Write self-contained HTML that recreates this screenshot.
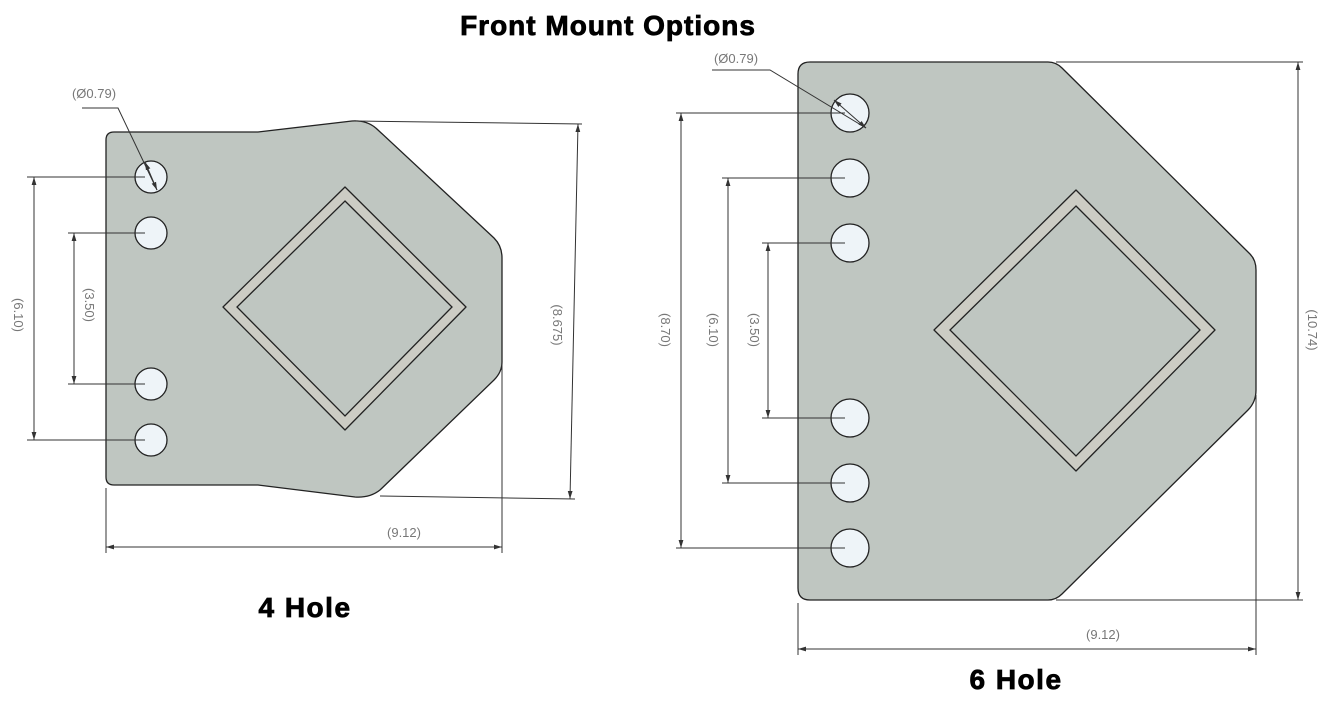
<!DOCTYPE html>
<html><head><meta charset="utf-8"><style>
html,body{margin:0;padding:0;background:#fff;width:1337px;height:703px;overflow:hidden}
svg{display:block}
.d{font-family:"Liberation Sans",sans-serif;font-size:13px;fill:#777}
.t{font-family:"Liberation Sans",sans-serif;font-weight:bold;fill:#000;stroke:#000;stroke-width:0.8}
</style></head><body>
<svg width="1337" height="703" viewBox="0 0 1337 703" xmlns="http://www.w3.org/2000/svg">
<defs><marker id="a" viewBox="0 0 10 10" refX="10" refY="5" markerWidth="8" markerHeight="8" orient="auto-start-reverse"><path d="M0,2 L10,5 L0,8z" fill="#333"/></marker></defs>
<text class="t" x="608" y="35" font-size="28" letter-spacing="1" text-anchor="middle">Front Mount Options</text>
<text class="t" x="305" y="617" font-size="28" letter-spacing="1.5" text-anchor="middle">4 Hole</text>
<text class="t" x="1016" y="689" font-size="28" letter-spacing="1.5" text-anchor="middle">6 Hole</text>

<!-- LEFT -->
<path d="M114,132 L258,132 L352,121 Q368,120 378,130 L494,238 Q502,246 502,258 L502,362 Q502,372 494,380 L380,490 Q370,498 355,497 L258,485 L114,485 Q106,485 106,477 L106,140 Q106,132 114,132Z" fill="#bfc6c1" stroke="#222" stroke-width="1.3"/>
<path d="M345,187 L466,307 L345,430 L223,307Z" fill="#ccccc4" stroke="#222" stroke-width="1.3" stroke-linejoin="round"/>
<path d="M345,201 L452,307 L345,416 L237,307Z" fill="#bfc6c1" stroke="#222" stroke-width="1.3"/>
<g fill="#eef4f8" stroke="#222" stroke-width="1.3">
<circle cx="151" cy="177" r="16"/><circle cx="151" cy="233" r="16"/><circle cx="151" cy="384" r="16"/><circle cx="151" cy="440" r="16"/>
</g>
<g stroke="#333" stroke-width="1" fill="none">
<line x1="27" y1="177" x2="145" y2="177"/><line x1="27" y1="440" x2="145" y2="440"/>
<line x1="34" y1="177" x2="34" y2="440" marker-start="url(#a)" marker-end="url(#a)"/>
<line x1="68" y1="233" x2="145" y2="233"/><line x1="68" y1="384" x2="145" y2="384"/>
<line x1="74" y1="233" x2="74" y2="384" marker-start="url(#a)" marker-end="url(#a)"/>
<line x1="356" y1="121" x2="582" y2="124"/><line x1="380" y1="496" x2="575" y2="499"/>
<line x1="578" y1="124" x2="570" y2="499" marker-start="url(#a)" marker-end="url(#a)"/>
<line x1="106" y1="488" x2="106" y2="553"/><line x1="502" y1="365" x2="502" y2="553"/>
<line x1="106" y1="547" x2="502" y2="547" marker-start="url(#a)" marker-end="url(#a)"/>
<polyline points="82,108 118,108 157,190"/>
<line x1="145" y1="162" x2="157" y2="190" marker-start="url(#a)" marker-end="url(#a)"/>
</g>
<text class="d" x="94" y="98" text-anchor="middle">(Ø0.79)</text>
<text class="d" x="404" y="537" text-anchor="middle">(9.12)</text>
<text class="d" transform="translate(14,315) rotate(90)" text-anchor="middle">(6.10)</text>
<text class="d" transform="translate(85,305) rotate(90)" text-anchor="middle">(3.50)</text>
<text class="d" transform="translate(553,325) rotate(90)" text-anchor="middle">(8.675)</text>

<!-- RIGHT -->
<path d="M810,62 L1048,62 Q1056,62 1062,68 L1250,254 Q1256,260 1256,270 L1256,390 Q1256,402 1248,410 L1062,594 Q1056,600 1048,600 L810,600 Q798,600 798,588 L798,74 Q798,62 810,62Z" fill="#bfc6c1" stroke="#222" stroke-width="1.3"/>
<path d="M1076,190 L1215,330 L1076,471 L934,330Z" fill="#ccccc4" stroke="#222" stroke-width="1.3" stroke-linejoin="round"/>
<path d="M1076,206 L1200,330 L1076,456 L950,330Z" fill="#bfc6c1" stroke="#222" stroke-width="1.3"/>
<g fill="#eef4f8" stroke="#222" stroke-width="1.3">
<circle cx="850" cy="113" r="19"/><circle cx="850" cy="178" r="19"/><circle cx="850" cy="243" r="19"/><circle cx="850" cy="418" r="19"/><circle cx="850" cy="483" r="19"/><circle cx="850" cy="548" r="19"/>
</g>
<g stroke="#333" stroke-width="1" fill="none">
<line x1="676" y1="113" x2="845" y2="113"/><line x1="676" y1="548" x2="845" y2="548"/>
<line x1="681" y1="113" x2="681" y2="548" marker-start="url(#a)" marker-end="url(#a)"/>
<line x1="722" y1="178" x2="845" y2="178"/><line x1="722" y1="483" x2="845" y2="483"/>
<line x1="728" y1="178" x2="728" y2="483" marker-start="url(#a)" marker-end="url(#a)"/>
<line x1="762" y1="243" x2="845" y2="243"/><line x1="762" y1="418" x2="845" y2="418"/>
<line x1="768" y1="243" x2="768" y2="418" marker-start="url(#a)" marker-end="url(#a)"/>
<line x1="1056" y1="62" x2="1303" y2="62"/><line x1="1056" y1="600" x2="1303" y2="600"/>
<line x1="1298" y1="62" x2="1298" y2="600" marker-start="url(#a)" marker-end="url(#a)"/>
<line x1="798" y1="603" x2="798" y2="655"/><line x1="1256" y1="395" x2="1256" y2="655"/>
<line x1="798" y1="649" x2="1256" y2="649" marker-start="url(#a)" marker-end="url(#a)"/>
<polyline points="712,70 770,70 866,128"/>
<line x1="834" y1="100" x2="866" y2="128" marker-start="url(#a)" marker-end="url(#a)"/>
</g>
<text class="d" x="736" y="63" text-anchor="middle">(Ø0.79)</text>
<text class="d" x="1103" y="639" text-anchor="middle">(9.12)</text>
<text class="d" transform="translate(661,330) rotate(90)" text-anchor="middle">(8.70)</text>
<text class="d" transform="translate(709,330) rotate(90)" text-anchor="middle">(6.10)</text>
<text class="d" transform="translate(750,330) rotate(90)" text-anchor="middle">(3.50)</text>
<text class="d" transform="translate(1308,330) rotate(90)" text-anchor="middle">(10.74)</text>
</svg>
</body></html>
